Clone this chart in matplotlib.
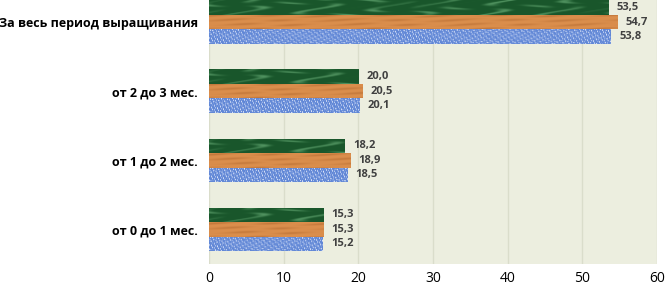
import numpy as np
import matplotlib
matplotlib.use("Agg")
import matplotlib.pyplot as plt

categories = ["от 0 до 1 мес.", "от 1 до 2 мес.", "от 2 до 3 мес.", "За весь период выращивания"]
green_vals = [15.3, 18.2, 20.0, 53.5]
orange_vals = [15.3, 18.9, 20.5, 54.7]
blue_vals = [15.2, 18.5, 20.1, 53.8]
x_ticks = [0, 10, 20, 30, 40, 50, 60]

plt.rcParams["font.family"] = ["Open Sans", "DejaVu Sans"]


def texture(kind, ncols, nrows=16):
    # deterministic fake textures to mimic the Excel picture fills
    x, y = np.meshgrid(np.arange(ncols), np.arange(nrows))
    if kind == "green":
        base = np.array([0.10, 0.34, 0.17])
        light = np.array([0.32, 0.58, 0.38])
        t = np.sin(x * 0.13 + 2.5 * np.sin(y * 0.45 + x * 0.021)) * np.sin(x * 0.047 + y * 0.3)
        t = np.clip(t, 0, 1) ** 2
    elif kind == "orange":
        base = np.array([0.86, 0.56, 0.30])
        light = np.array([0.72, 0.43, 0.20])
        t = 0.5 + 0.5 * np.sin(y * 1.3 + 0.8 * np.sin(x * 0.05))
        t = t * (0.6 + 0.4 * np.sin(x * 0.11 + y)) ** 2 * 0.7
    else:
        base = np.array([0.38, 0.53, 0.84])
        light = np.array([0.88, 0.91, 0.98])
        t = np.sin(x * 1.7 + y * 2.3) * np.sin(x * 0.9 - y * 1.9) * np.sin(x * 0.37 + y * 0.8)
        t = np.clip(t * 1.6, 0, 1)
    return base[None, None, :] * (1 - t[..., None]) + light[None, None, :] * t[..., None]


fig = plt.figure(figsize=(6.66, 2.89), dpi=100)
ax = fig.add_axes([0.314, 0.0865, 0.6725, 0.9135])
ax.set_facecolor("#ECEEDF")

pos = np.arange(len(categories))
h = 0.21
series = [(green_vals, "green", h), (orange_vals, "orange", 0), (blue_vals, "blue", -h)]

for vals, kind, off in series:
    bars = ax.barh(pos + off, vals, height=h, color="none", linewidth=0, zorder=3)
    for b, v in zip(bars, vals):
        tex = texture(kind, int(v * 7.5) + 1)
        im = ax.imshow(tex, extent=[0, v, b.get_y(), b.get_y() + h], aspect="auto",
                       interpolation="bilinear", zorder=3)
        im.set_clip_path(b)
        ax.annotate(f"{v:.1f}".replace(".", ","), (v, b.get_y() + h / 2),
                    xytext=(6, 0), textcoords="offset points", va="center", ha="left",
                    fontsize=8, fontweight="bold", color="#404040", zorder=4)

ax.set_xlim(0, 60)
ax.set_ylim(-0.5, 3.32)
ax.set_xticks(x_ticks)
ax.set_xticklabels([str(t) for t in x_ticks], fontsize=10)
ax.set_yticks(pos)
ax.set_yticklabels(categories, fontsize=9, fontweight="bold")
ax.tick_params(length=0, pad=8)
ax.tick_params(axis="x", pad=5)
ax.grid(axis="x", color="#DADDCB", linewidth=1, zorder=0)
ax.set_axisbelow(True)
for s in ax.spines.values():
    s.set_visible(False)

fig.savefig("out.png", dpi=100)
